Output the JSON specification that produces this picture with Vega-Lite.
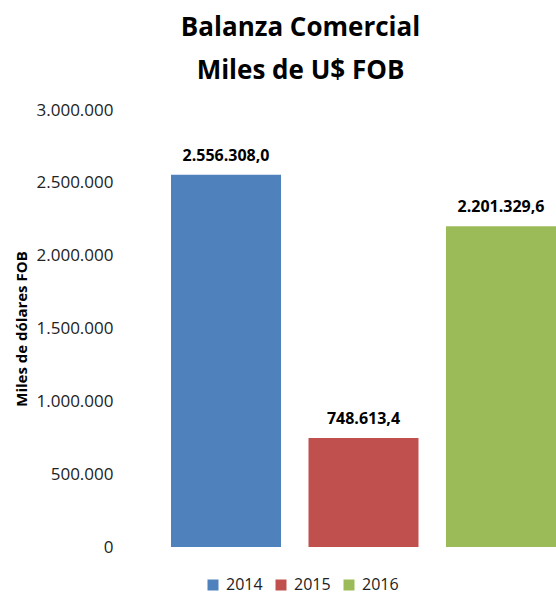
{
  "$schema": "https://vega.github.io/schema/vega-lite/v6.json",
  "autosize": "none",
  "padding": {"left": 157, "top": 110, "right": 0, "bottom": 48},
  "width": 399,
  "height": 437,
  "background": "white",
  "config": {
    "font": "Open Sans",
    "view": {"stroke": null},
    "locale": {"number": {"decimal": ",", "thousands": ".", "grouping": [3], "currency": ["", "$"]}}
  },
  "title": {
    "text": ["Balanza Comercial", "Miles de U$ FOB"],
    "font": "Open Sans",
    "fontSize": 26,
    "fontWeight": "bold",
    "color": "black",
    "lineHeight": 43,
    "anchor": "middle",
    "dx": -56,
    "offset": 17
  },
  "data": {
    "values": [
      {"year": "2014", "value": 2556308.0},
      {"year": "2015", "value": 748613.4},
      {"year": "2016", "value": 2201329.6}
    ]
  },
  "encoding": {
    "x": {
      "field": "year",
      "type": "nominal",
      "axis": null,
      "scale": {"paddingInner": 0.2, "paddingOuter": 0.0509, "align": 1}
    },
    "y": {
      "field": "value",
      "type": "quantitative",
      "scale": {"domain": [0, 3000000], "nice": false},
      "axis": {
        "title": "Miles de dólares FOB",
        "titleFont": "Open Sans",
        "titleFontSize": 15,
        "titleFontWeight": "bold",
        "titleColor": "black",
        "titlePadding": 7,
        "values": [0, 500000, 1000000, 1500000, 2000000, 2500000, 3000000],
        "format": ",.0f",
        "labelFont": "Open Sans",
        "labelFontSize": 17,
        "labelColor": "#222222",
        "labelPadding": 44,
        "tickSize": 0,
        "ticks": false,
        "domain": false,
        "grid": false
      }
    }
  },
  "layer": [
    {
      "mark": {"type": "bar"},
      "encoding": {
        "color": {
          "field": "year",
          "type": "nominal",
          "scale": {"domain": ["2014", "2015", "2016"], "range": ["#4F81BD", "#C0504D", "#9BBB59"]},
          "legend": {
            "title": null,
            "orient": "none",
            "direction": "horizontal",
            "legendX": 48,
            "legendY": 467,
            "symbolType": "square",
            "symbolSize": 121,
            "symbolStrokeWidth": 0,
            "symbolOpacity": 1,
            "labelFont": "Open Sans",
            "labelFontSize": 16,
            "labelColor": "#222222",
            "labelOffset": 5,
            "columnPadding": 10
          }
        }
      }
    },
    {
      "mark": {"type": "text", "baseline": "bottom", "dy": -11, "fontWeight": "bold", "fontSize": 16, "font": "Open Sans", "color": "black"},
      "encoding": {
        "text": {"field": "value", "type": "quantitative", "format": ",.1f"}
      }
    }
  ]
}
